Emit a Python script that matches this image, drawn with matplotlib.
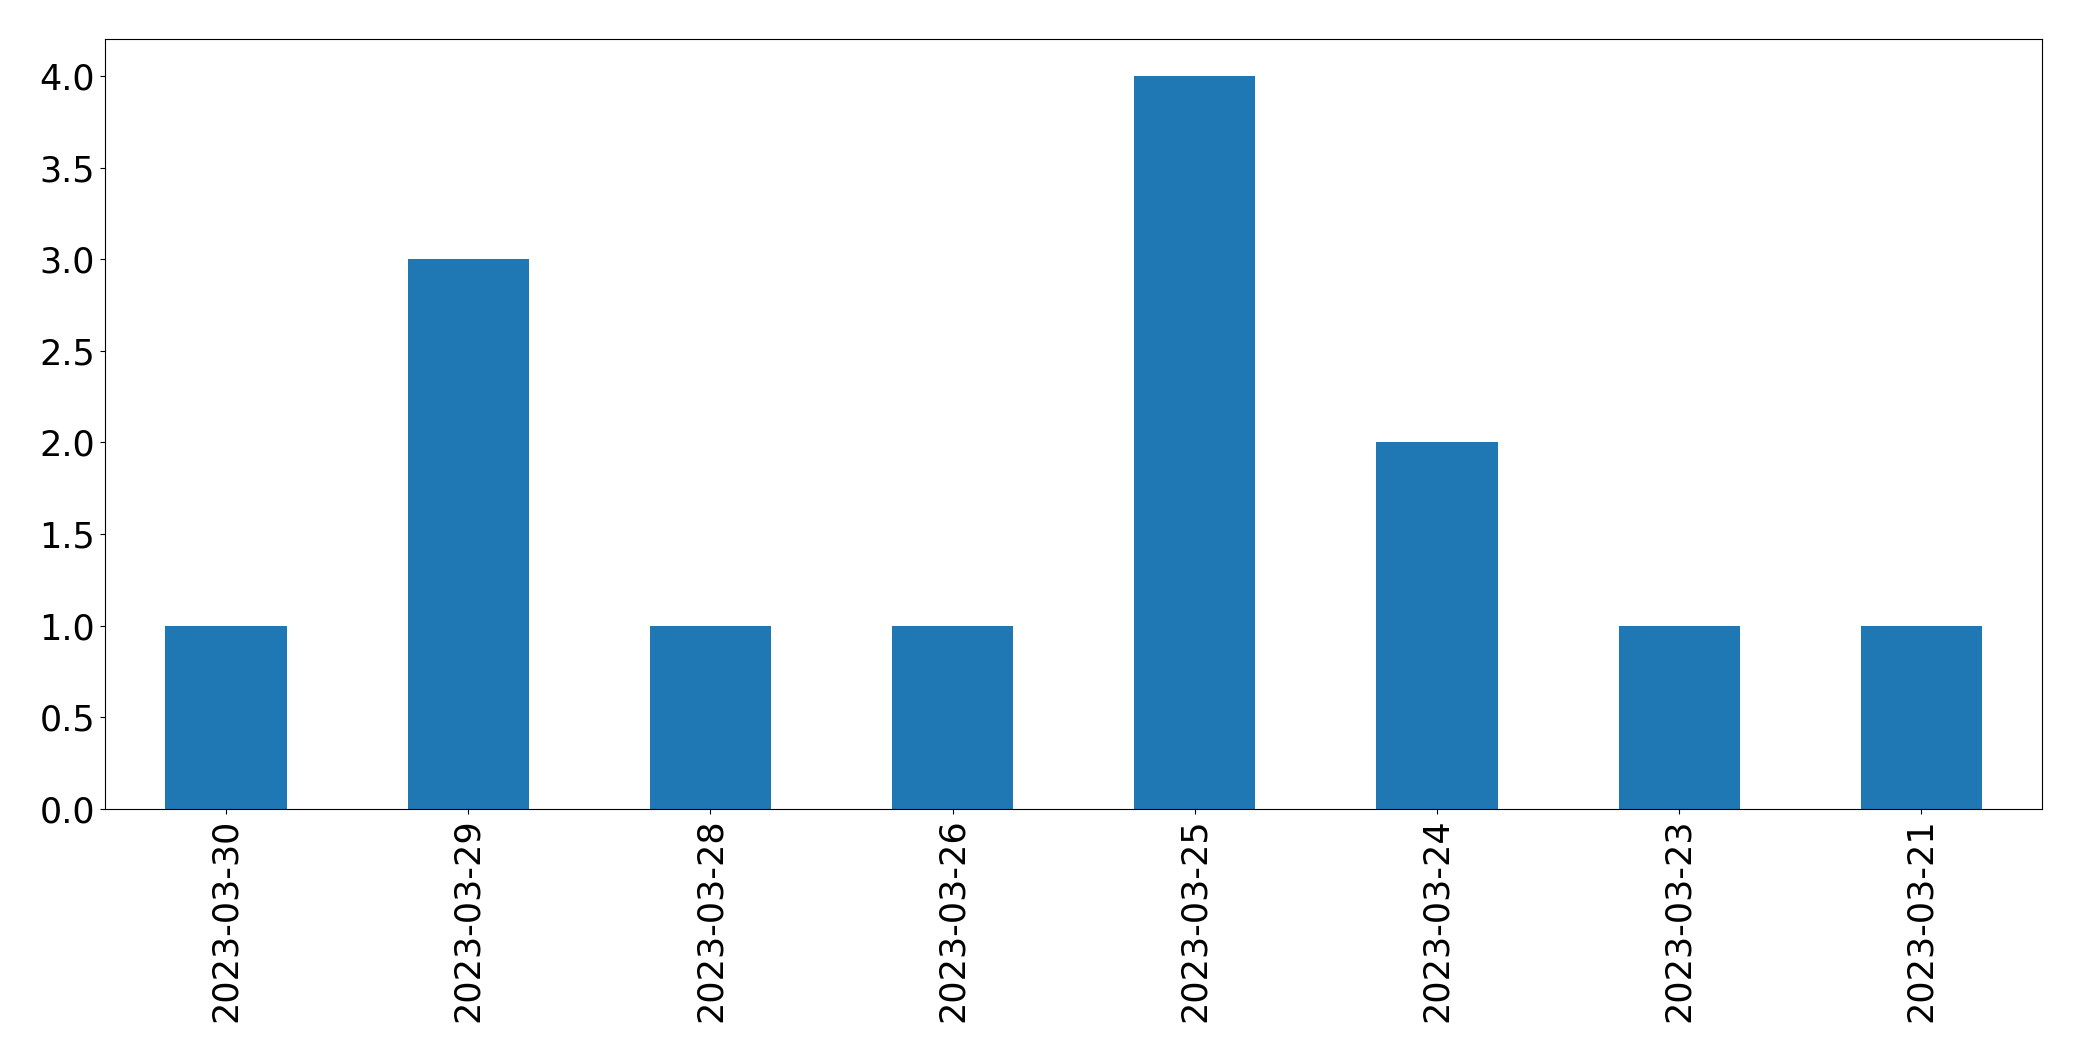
import matplotlib
matplotlib.use('Agg')
import matplotlib.pyplot as plt

dates = ['2023-03-30', '2023-03-29', '2023-03-28', '2023-03-26',
         '2023-03-25', '2023-03-24', '2023-03-23', '2023-03-21']
counts = [1, 3, 1, 1, 4, 2, 1, 1]

fig, ax = plt.subplots(figsize=(20.82, 10.61), dpi=100)
x = range(len(dates))
ax.bar(x, counts, width=0.5, color='#1f77b4')
ax.set_xticks(list(x))
ax.set_xticklabels(dates, rotation=90, fontsize=25.2)
ax.tick_params(axis='y', labelsize=25.2)
ax.set_xlim(-0.5, len(dates) - 0.5)
ax.set_ylim(0, 4.2)

plt.subplots_adjust(left=0.0504, right=0.981, top=0.963, bottom=0.2375)
plt.savefig('out.png')
